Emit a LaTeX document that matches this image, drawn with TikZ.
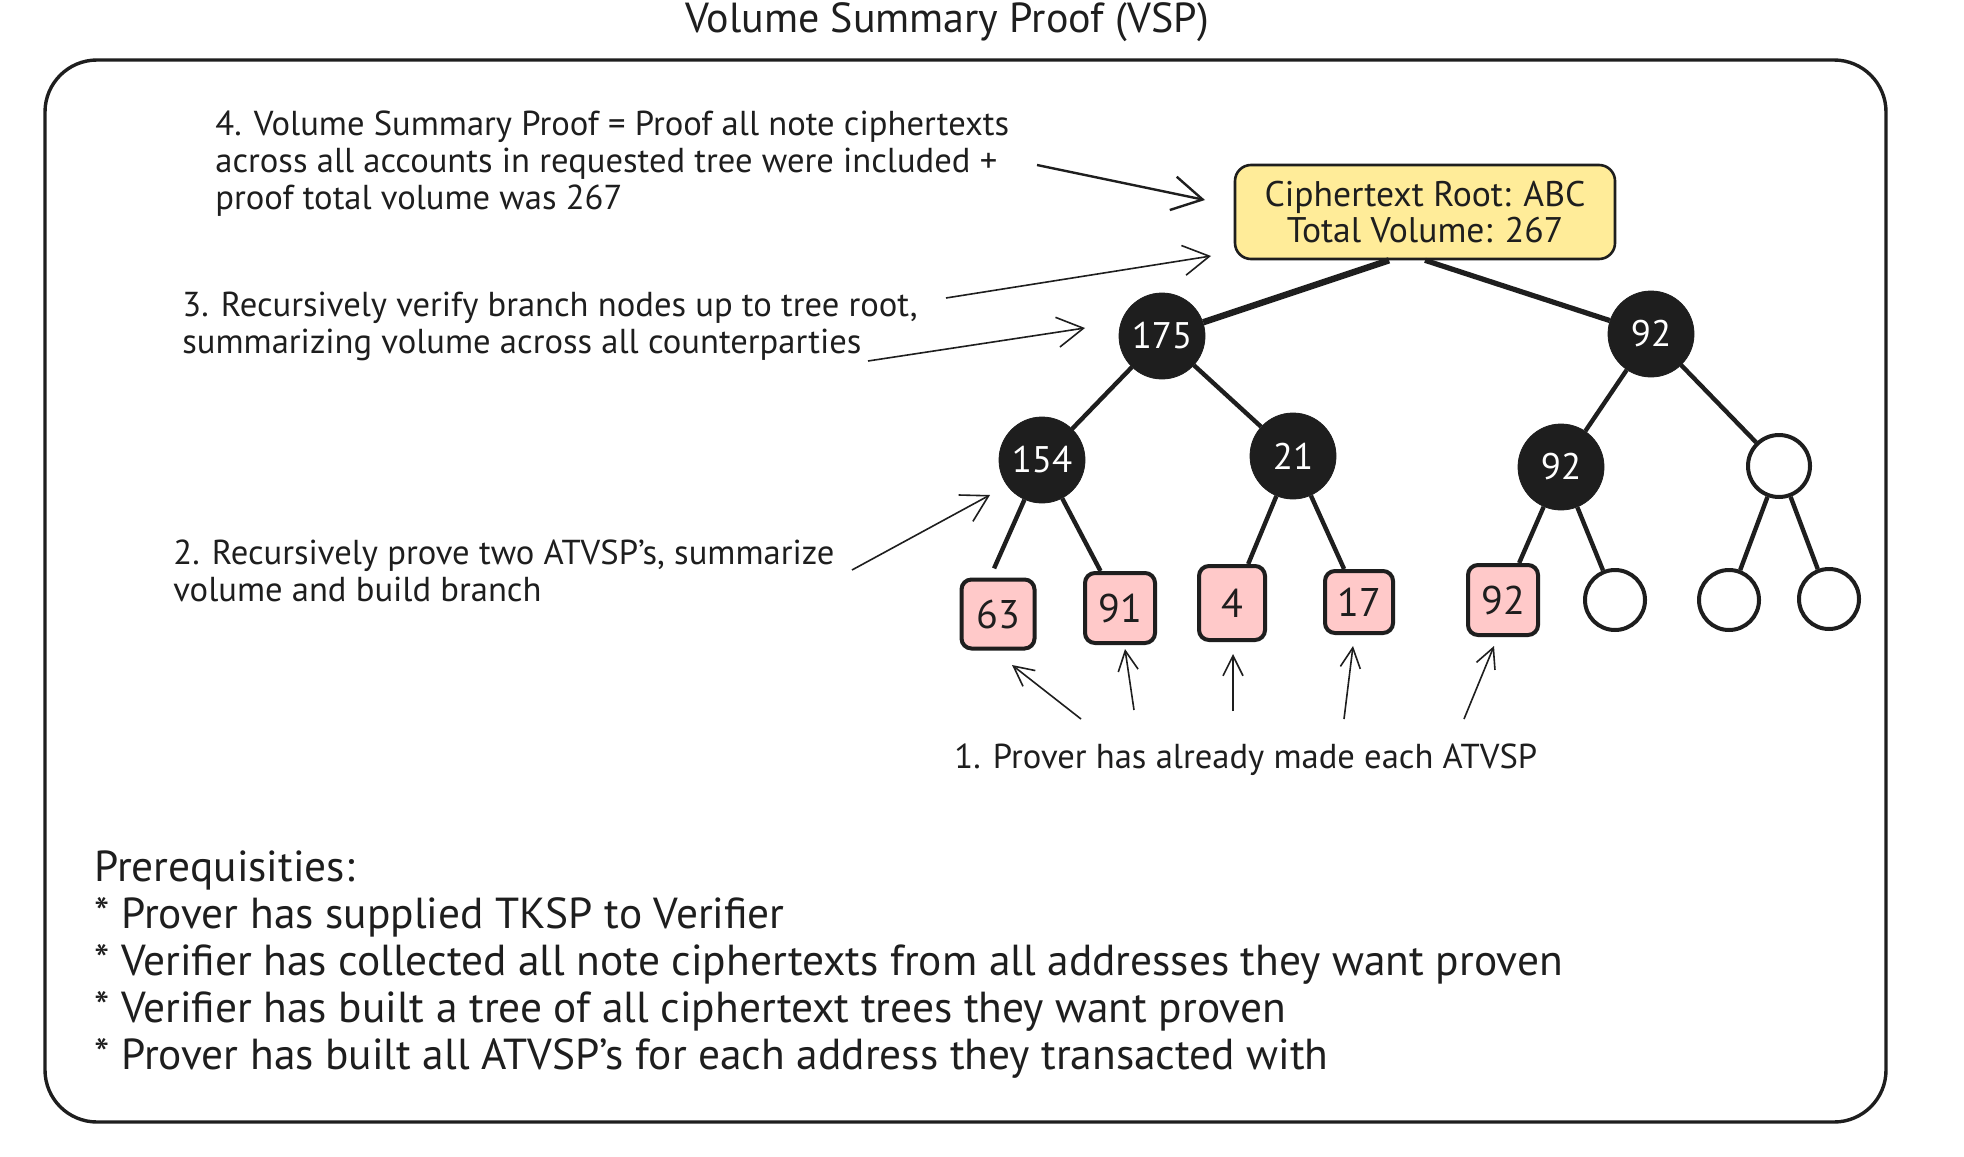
\documentclass[tikz,border=0pt]{standalone}
\usepackage{fontspec}
\setmainfont{PT Sans}
\usetikzlibrary{arrows.meta}
\definecolor{ink}{HTML}{1E1E1E}
\definecolor{rootfill}{HTML}{FFEC99}
\definecolor{leaffill}{HTML}{FFC9C9}
\begin{document}
\begin{tikzpicture}[x=0.5pt,y=-0.5pt,
  every node/.style={text=ink},
  frame/.style={draw=ink, line width=1.7pt, rounded corners=26pt},
  sumnode/.style={circle, fill=ink, draw=ink, minimum size=43pt, inner sep=0pt, text=white, font=\fontsize{18.5}{22}\selectfont},
  emptynode/.style={circle, draw=ink, fill=white, line width=2pt, minimum size=30pt, inner sep=0pt},
  leafnode/.style={rectangle, rounded corners=5pt, draw=ink, fill=leaffill, line width=2pt, minimum width=35pt, minimum height=35pt, inner sep=0pt, font=\fontsize{20}{22}\selectfont},
  rootbox/.style={rectangle, rounded corners=8pt, draw=ink, fill=rootfill, line width=1.3pt, minimum width=190pt, minimum height=47pt, inner sep=0pt, align=center, font=\fontsize{17.8}{18.3}\selectfont},
  treeline/.style={draw=ink, line width=2.2pt},
  thickline/.style={draw=ink, line width=3.2pt},
  notetext/.style={anchor=base west, align=left, inner sep=0pt, font=\fontsize{17.3}{18.5}\selectfont},
  prereqtext/.style={anchor=base west, align=left, inner sep=0pt, font=\fontsize{21.7}{23.5}\selectfont},
  titletext/.style={anchor=base, inner sep=0pt, font=\fontsize{21}{24}\selectfont},
  bigarr/.style={draw=ink, line width=1.2pt, -{Straight Barb[length=15pt,width=17pt]}},
  arr/.style={draw=ink, line width=0.8pt, -{Straight Barb[length=13pt,width=15pt]}},
  smallarr/.style={draw=ink, line width=0.8pt, -{Straight Barb[length=10pt,width=10pt]}},
]
\useasboundingbox (0,0) rectangle (1964,1156);
\fill[white] (0,0) rectangle (1964,1156);

% title and frame
\node[titletext] (title) at (947,33) {Volume Summary Proof (VSP)};
\draw[frame] (45,60) rectangle (1886,1122);

% tree
\node[rootbox] (root) at (1425,212) {Ciphertext Root: ABC\\Total Volume: 267};
\node[sumnode] (n175) at (1162,336) {175};
\node[sumnode] (n92a) at (1651,334) {92};
\node[sumnode] (n154) at (1042,460) {154};
\node[sumnode] (n21) at (1293,456) {21};
\node[sumnode] (n92b) at (1561,467) {92};
\node[emptynode, minimum size=31pt] (e1) at (1779,466) {};
\node[leafnode, minimum width=36.5pt, minimum height=34.5pt] (l63) at (998,614) {63};
\node[leafnode] (l91) at (1120,608) {91};
\node[leafnode, minimum width=33pt, minimum height=37pt] (l4) at (1232,603) {4};
\node[leafnode, minimum width=34pt, minimum height=31pt] (l17) at (1359,602) {17};
\node[leafnode] (l92) at (1503,600) {92};
\node[emptynode] (e2) at (1615,600) {};
\node[emptynode] (e3) at (1729,600) {};
\node[emptynode] (e4) at (1829,599) {};

\draw[thickline] ([xshift=-18pt]root.south) -- (n175);
\draw[treeline, line width=2.6pt] (root.south) -- (n92a);
\draw[treeline] (n175) -- (n154);
\draw[treeline] (n175) -- (n21);
\draw[treeline] (n92a) -- (n92b);
\draw[treeline] (n92a) -- (e1);
\draw[treeline, shorten >=5pt] (n154) -- ([xshift=-4pt]l63.north);
\draw[treeline] (n154) -- (l91);
\draw[treeline] (n21) -- (l4);
\draw[treeline] (n21) -- (l17);
\draw[treeline] (n92b) -- (l92);
\draw[treeline] (n92b) -- (e2);
\draw[treeline] (e1) -- (e3);
\draw[treeline] (e1) -- (e4);

% notes (base anchor = baseline of the last line)
\node[notetext] (t4) at (215,209) {4. Volume Summary Proof = Proof all note ciphertexts\\across all accounts in requested tree were included +\\proof total volume was 267};
\node[notetext] (t3) at (182,353) {3. Recursively verify branch nodes up to tree root,\\summarizing volume across all counterparties};
\node[notetext] (t2) at (173,601) {2. Recursively prove two ATVSP's, summarize\\volume and build branch};
\node[notetext] (t1) at (954,768) {1. Prover has already made each ATVSP};
\node[prereqtext] (pre) at (94,1069) {Prerequisities:\\* Prover has supplied TKSP to Verifier\\* Verifier has collected all note ciphertexts from all addresses they want proven\\* Verifier has built a tree of all ciphertext trees they want proven\\* Prover has built all ATVSP's for each address they transacted with};

% arrows
\coordinate (a4s) at (1037,165); \coordinate (a4e) at (1205,200);
\coordinate (a3s) at (946,298); \coordinate (a3e) at (1211,256);
\coordinate (a3bs) at (868,361); \coordinate (a3be) at (1085,328);
\coordinate (a2s) at (852,570); \coordinate (a2e) at (990,495);
\coordinate (a1as) at (1081,719); \coordinate (a1ae) at (1012,665);
\coordinate (a1bs) at (1134,710); \coordinate (a1be) at (1125,649);
\coordinate (a1cs) at (1233,711); \coordinate (a1ce) at (1233,654);
\coordinate (a1ds) at (1344,719); \coordinate (a1de) at (1353,646);
\coordinate (a1es) at (1464,719); \coordinate (a1ee) at (1494,646);
\draw[bigarr] (a4s) -- (a4e);
\draw[arr] (a3s) -- (a3e);
\draw[arr] (a3bs) -- (a3be);
\draw[arr] (a2s) -- (a2e);
\draw[smallarr] (a1as) -- (a1ae);
\draw[smallarr] (a1bs) -- (a1be);
\draw[smallarr] (a1cs) -- (a1ce);
\draw[smallarr] (a1ds) -- (a1de);
\draw[smallarr] (a1es) -- (a1ee);
\end{tikzpicture}
\end{document}
